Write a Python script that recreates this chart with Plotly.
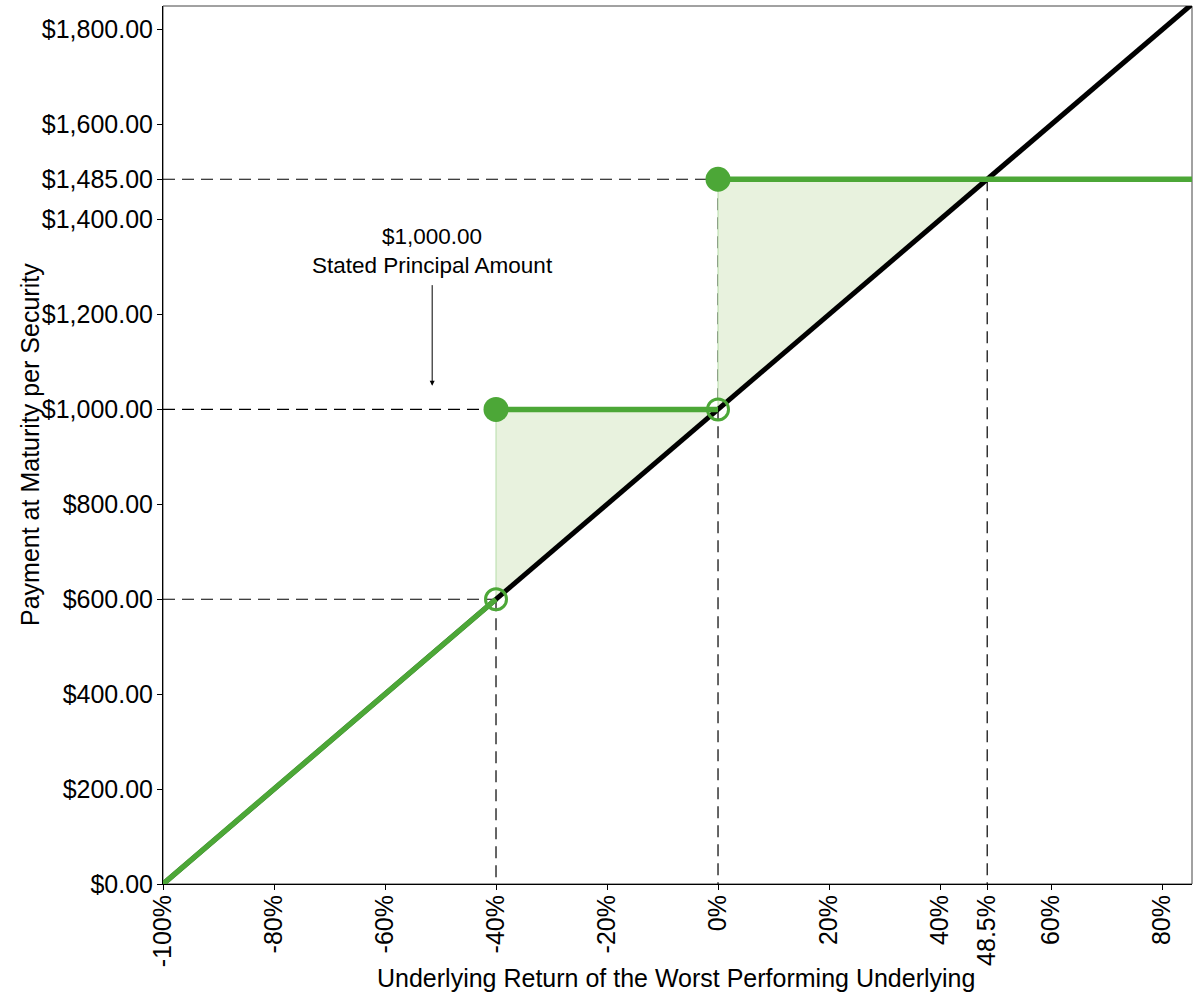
import plotly.graph_objects as go

# underlying return (%) and payment at maturity ($)
ret_line = [-100, 85.4]
pay_line = [0, 1854]

ret_low = [-100, -40]
pay_low = [0, 600]
ret_mid = [-40, 0]
pay_mid = [1000, 1000]
ret_high = [0, 85.4]
pay_high = [1485, 1485]

fill_x = [-40, -40, 0, 0, 48.5, -40]
fill_y = [600, 1000, 1000, 1485, 1485, 600]

closed_x = [-40, 0]
closed_y = [1000, 1485]
open_x = [-40, 0]
open_y = [600, 1000]

x_ticks = [-100, -80, -60, -40, -20, 0, 20, 40, 48.5, 60, 80]
x_labels = ["-100%", "-80%", "-60%", "-40%", "-20%", "0%", "20%", "40%", "48.5%", "60%", "80%"]
y_ticks = [0, 200, 400, 600, 800, 1000, 1200, 1400, 1485, 1600, 1800]
y_labels = ["$0.00", "$200.00", "$400.00", "$600.00", "$800.00", "$1,000.00",
            "$1,200.00", "$1,400.00", "$1,485.00", "$1,600.00", "$1,800.00"]

# dashed guide lines: (x0, y0, x1, y1)
guides = [
    (-100, 1485, 0, 1485),
    (-100, 1000, -40, 1000),
    (-100, 600, -40, 600),
    (-40, 600, -40, 0),
    (0, 1485, 0, 0),
    (48.5, 1485, 48.5, 0),
]

green = "#4ca737"
font_family = "Liberation Sans, Arial, sans-serif"
fig = go.Figure()

for x0, y0, x1, y1 in guides:
    fig.add_trace(go.Scatter(x=[x0, x1], y=[y0, y1], mode="lines",
                             line=dict(color="black", width=1.2, dash="12px,7px"),
                             hoverinfo="skip", showlegend=False))

fig.add_trace(go.Scatter(x=fill_x, y=fill_y, fill="toself", mode="lines",
                         fillcolor="#e8f2de", line=dict(color="#b5dca8", width=1),
                         showlegend=False))

fig.add_trace(go.Scatter(x=ret_line, y=pay_line, mode="lines",
                         line=dict(color="black", width=5), showlegend=False))

for xs, ys in [(ret_low, pay_low), (ret_mid, pay_mid), (ret_high, pay_high)]:
    fig.add_trace(go.Scatter(x=xs, y=ys, mode="lines",
                             line=dict(color=green, width=5.5), showlegend=False))

fig.add_trace(go.Scatter(x=closed_x, y=closed_y, mode="markers",
                         marker=dict(color=green, size=25, symbol="circle"),
                         showlegend=False))
fig.add_trace(go.Scatter(x=open_x, y=open_y, mode="markers",
                         marker=dict(color=green, size=21, symbol="circle-open",
                                     line=dict(width=3, color=green)),
                         showlegend=False))

fig.add_annotation(x=-51.5, y=1050, ax=-51.5, ay=1265, xref="x", yref="y",
                   axref="x", ayref="y", text="", showarrow=True,
                   arrowhead=2, arrowsize=1, arrowwidth=1, arrowcolor="black")
fig.add_annotation(x=-51.5, y=1272, xref="x", yref="y", yanchor="bottom",
                   text="$1,000.00<br>Stated Principal Amount", showarrow=False,
                   font=dict(size=22.5, color="black"))

# axis titles, positioned in pixels relative to the plot area
plot_w = 1200 - 163 - 8
plot_h = 1000 - 6 - 116
fig.add_annotation(x=(676 - 163) / plot_w, y=-(978 - 884) / plot_h,
                   xref="paper", yref="paper", xanchor="center", yanchor="middle",
                   text="Underlying Return of the Worst Performing Underlying",
                   showarrow=False, font=dict(size=25, color="black"))
fig.add_annotation(x=-(163 - 30) / plot_w, y=(884 - 445) / plot_h,
                   xref="paper", yref="paper", xanchor="center", yanchor="middle",
                   textangle=-90, text="Payment at Maturity per Security",
                   showarrow=False, font=dict(size=25, color="black"))

fig.add_shape(type="rect", xref="paper", yref="paper", x0=0, y0=0, x1=1, y1=1,
              line=dict(color="#444444", width=1), layer="below")

fig.update_xaxes(range=[-100, 85.4], tickvals=x_ticks, ticktext=x_labels,
                 tickangle=-90, ticks="outside", ticklen=5, tickcolor="black",
                 ticklabelstandoff=-5,
                 showline=True, linecolor="black", linewidth=1,
                 showgrid=False, zeroline=False, automargin=False,
                 tickfont=dict(size=25, color="black"))
fig.update_yaxes(range=[0, 1850], tickvals=y_ticks, ticktext=y_labels,
                 ticks="outside", ticklen=5, tickcolor="black",
                 ticklabelstandoff=-1,
                 showline=True, linecolor="black", linewidth=1,
                 showgrid=False, zeroline=False, automargin=False,
                 tickfont=dict(size=25, color="black"))

fig.update_layout(width=1200, height=1000,
                  margin=dict(l=163, r=8, t=6, b=116),
                  plot_bgcolor="white", paper_bgcolor="white",
                  font=dict(family=font_family),
                  showlegend=False)

fig.write_html("out.html", config={"displayModeBar": False},
               post_script="document.body.style.margin = '0';")
